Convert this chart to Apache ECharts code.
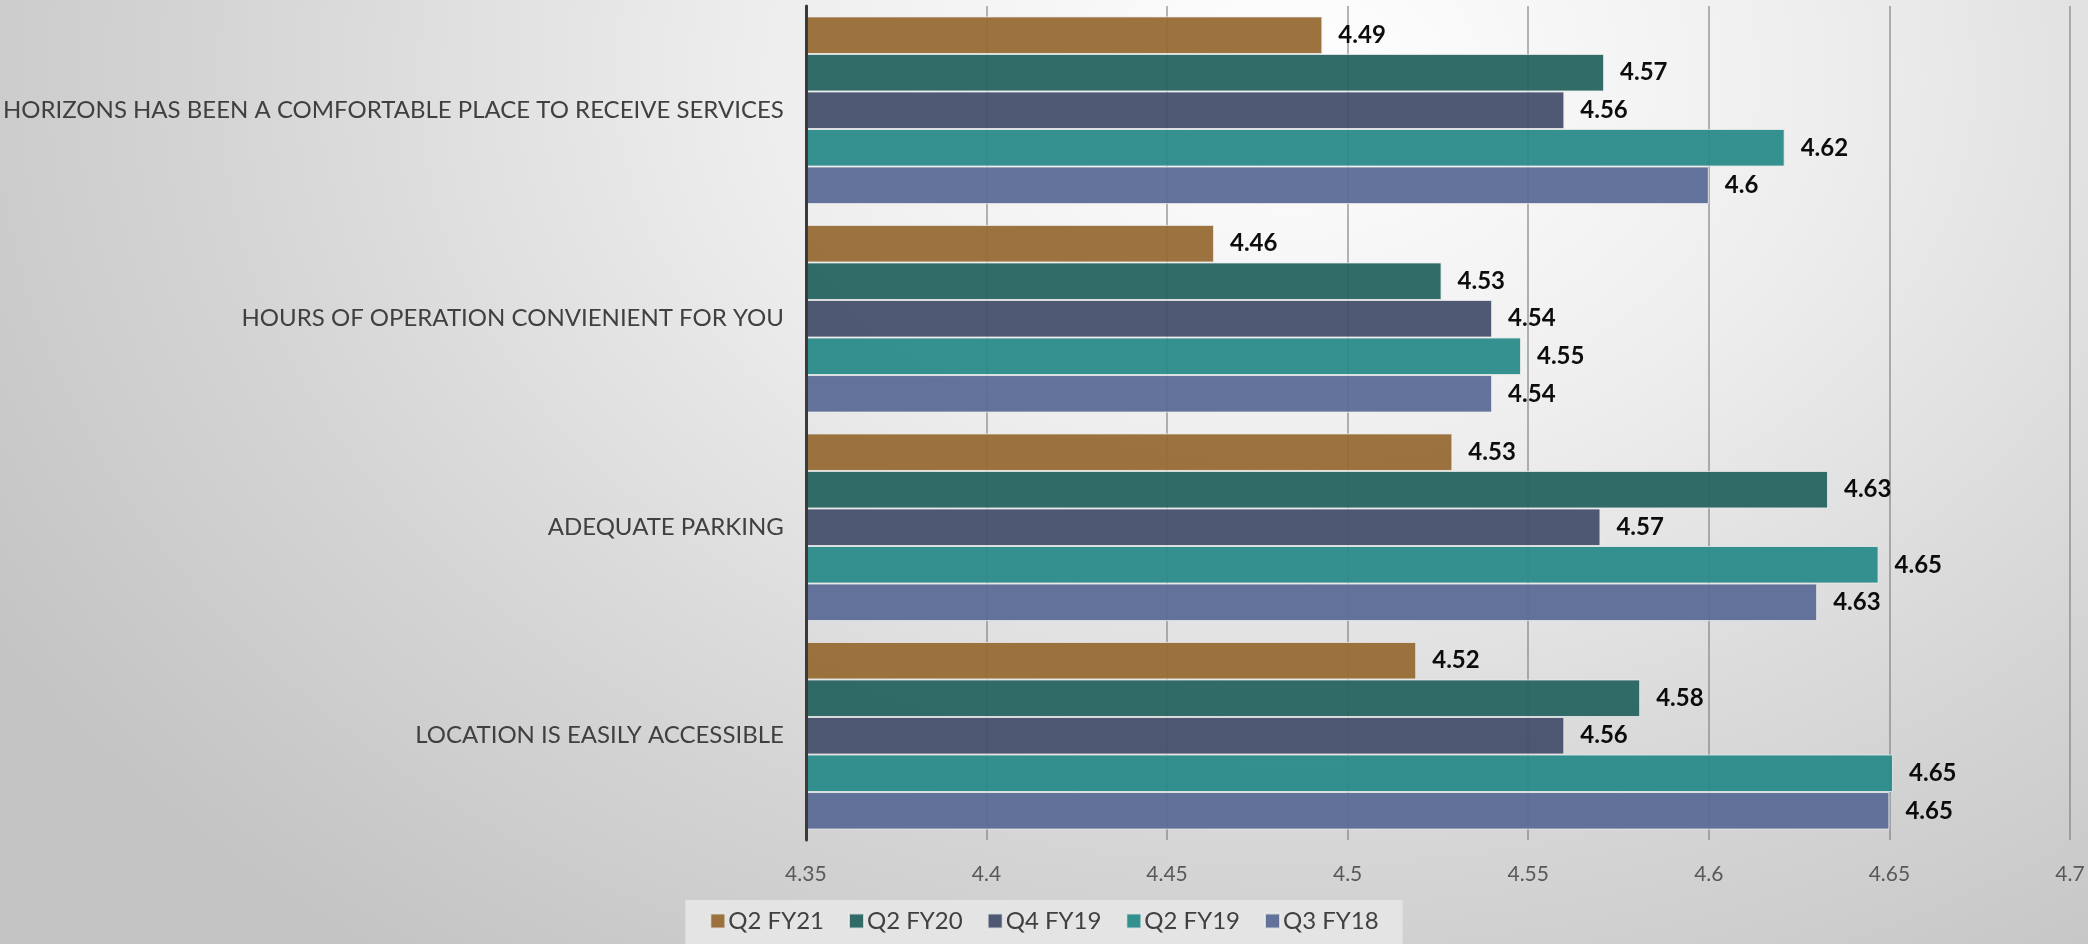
<!DOCTYPE html>
<html>
<head>
<meta charset="utf-8">
<script src="https://cdn.jsdelivr.net/npm/echarts@6/dist/echarts.min.js"></script>
<style>
html,body{margin:0;padding:0;width:2088px;height:944px;overflow:hidden;}
body{background:radial-gradient(ellipse 1500px 1100px at 62% 8%, #ffffff 0%, #eeeeee 35%, #d6d6d6 70%, #c4c4c4 100%);}
#chart{width:2088px;height:944px;}
</style>
</head>
<body>
<div id="chart"></div>
<script>
const categories = [
  'HORIZONS HAS BEEN A COMFORTABLE PLACE TO RECEIVE SERVICES',
  'HOURS OF OPERATION CONVIENIENT FOR YOU',
  'ADEQUATE PARKING',
  'LOCATION IS EASILY ACCESSIBLE'
];
const seriesNames = ['Q2 FY21', 'Q2 FY20', 'Q4 FY19', 'Q2 FY19', 'Q3 FY18'];
const q2fy21 = [4.493, 4.463, 4.529, 4.519];
const q2fy20 = [4.571, 4.526, 4.633, 4.581];
const q4fy19 = [4.56, 4.54, 4.57, 4.56];
const q2fy19 = [4.621, 4.548, 4.647, 4.651];
const q3fy18 = [4.60, 4.54, 4.63, 4.65];
const xTicks = { min: 4.35, max: 4.7, interval: 0.05 };

const colors = ['#976A35', '#276461', '#46506D', '#2A8B89', '#5B6B97'];
const values = [q2fy21, q2fy20, q4fy19, q2fy19, q3fy18];
const FONT = 'Lato, "Open Sans", sans-serif';

const chart = echarts.init(document.getElementById('chart'), null, {renderer: 'canvas'});
chart.setOption({
  backgroundColor: 'transparent',
  animation: false,
  grid: { left: 803, right: 18, top: 6, bottom: 104, containLabel: false },
  xAxis: {
    type: 'value',
    min: xTicks.min, max: xTicks.max, interval: xTicks.interval,
    axisLine: { show: false },
    axisTick: { show: false },
    splitLine: { show: true, lineStyle: { color: 'rgba(120,120,120,0.55)', width: 2 } },
    axisLabel: {
      margin: 24, color: '#595959', fontSize: 21, fontFamily: FONT,
      formatter: v => String(+v.toFixed(2))
    }
  },
  yAxis: {
    type: 'category',
    data: categories,
    inverse: true,
    z: 5,
    axisLine: { show: true, lineStyle: { color: '#3a3a3a', width: 3 } },
    axisTick: { show: false },
    axisLabel: { margin: 22, color: '#404040', fontSize: 24, fontFamily: FONT }
  },
  legend: {
    data: seriesNames,
    left: 'center',
    bottom: 0,
    backgroundColor: '#e4e4e4',
    padding: [9, 24, 11, 24],
    itemWidth: 15, itemHeight: 15, itemGap: 24,
    icon: 'rect',
    textStyle: { color: '#404040', fontSize: 24, fontFamily: FONT, padding: [0, 0, 0, -2] }
  },
  series: seriesNames.map((name, i) => ({
    name: name,
    type: 'bar',
    data: values[i],
    barGap: '0%',
    barCategoryGap: '10%',
    itemStyle: { color: colors[i], opacity: 0.95, borderColor: 'rgba(235,235,235,0.85)', borderWidth: 1 },
    label: {
      show: true, position: 'right', distance: 16,
      color: '#000', fontWeight: 'bold', fontSize: 24, fontFamily: FONT,
      formatter: p => String(+p.value.toFixed(2))
    }
  }))
});
</script>
</body>
</html>
